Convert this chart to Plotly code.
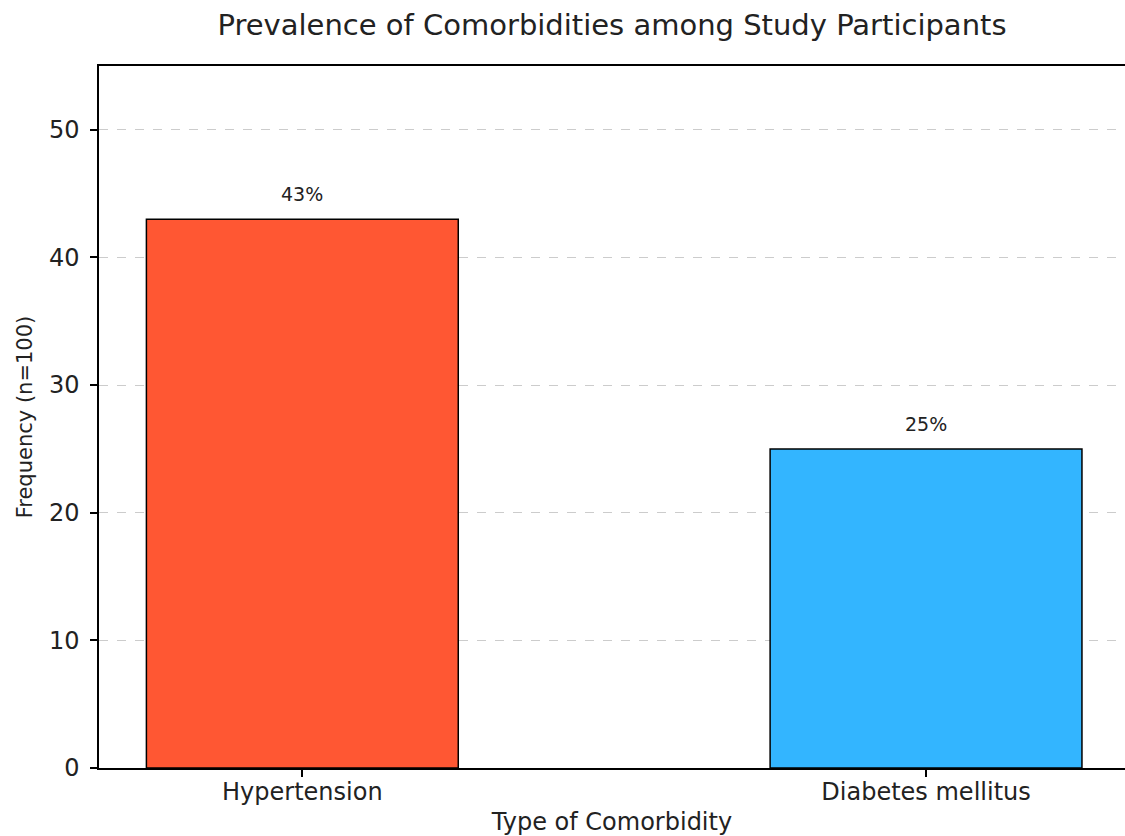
import plotly.graph_objects as go

# Comorbidity counts among 100 participants
categories = ["Hypertension", "Diabetes mellitus"]
frequencies = [43, 25]
bar_colors = ["#FF5733", "#33B5FF"]

FONT = "DejaVu Sans"

fig = go.Figure()
fig.add_trace(go.Bar(
    x=list(range(len(categories))),
    y=frequencies,
    width=0.5,
    marker=dict(color=bar_colors, line=dict(color="black", width=1.5)),
    hoverinfo="skip",
))

# Percentage labels above each bar
for i, v in enumerate(frequencies):
    fig.add_annotation(
        x=i, y=v, text=f"{v}%", showarrow=False,
        yanchor="bottom", yshift=12,
        font=dict(family=FONT, size=19, color="#222222"),
    )

fig.update_layout(
    width=1125, height=836,
    margin=dict(l=99, r=0, t=66, b=68),
    paper_bgcolor="white", plot_bgcolor="white",
    showlegend=False,
    title=dict(
        text="Prevalence of Comorbidities among Study Participants",
        x=0.5, xref="paper", y=1 - 25 / 836, yanchor="middle",
        font=dict(family=FONT, size=29, color="#222222"),
    ),
    font=dict(family=FONT, color="#222222"),
)

fig.update_xaxes(
    range=[-0.326, 1.319],
    tickmode="array", tickvals=list(range(len(categories))), ticktext=categories,
    ticks="outside", ticklen=7, tickwidth=1.5, tickcolor="black",
    ticklabelstandoff=-6,
    showline=True, linecolor="black", linewidth=1.5, mirror=True,
    showgrid=False, zeroline=False,
    tickfont=dict(family=FONT, size=24),
    title=dict(text="Type of Comorbidity", font=dict(family=FONT, size=24), standoff=10),
)
fig.update_yaxes(
    range=[0, 55],
    tickmode="array", tickvals=[0, 10, 20, 30, 40, 50],
    ticks="outside", ticklen=7, tickwidth=1.5, tickcolor="black",
    ticklabelstandoff=6,
    showline=True, linecolor="black", linewidth=1.5,
    showgrid=True, gridcolor="#cccccc", gridwidth=1, griddash="dash",
    zeroline=False,
    tickfont=dict(family=FONT, size=24),
    title=dict(text="Frequency (n=100)", font=dict(family=FONT, size=21), standoff=11),
)

fig.write_html("out.html")
